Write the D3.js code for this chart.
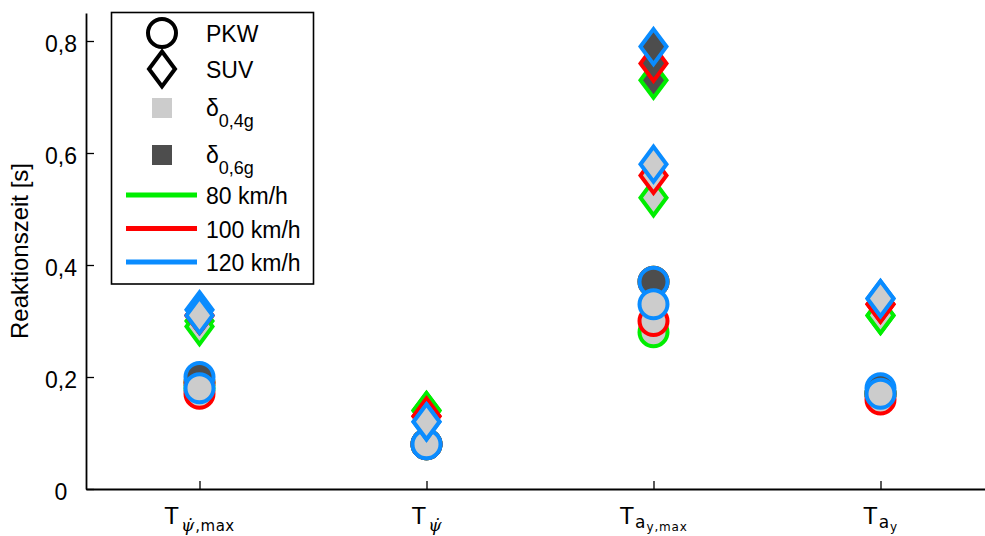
<!DOCTYPE html>
<html>
<head>
<meta charset="utf-8">
<script src="https://cdn.jsdelivr.net/npm/d3@7"></script>
<style>
  body { margin: 0; background: #fff; }
  svg { display: block; }
  text { font-family: "Liberation Sans", Arial, Helvetica, sans-serif; fill: #000; }
</style>
</head>
<body>
<svg id="chart" width="985" height="536"></svg>
<script>
// Reaction times of the driver-model metrics, per vehicle, steering amplitude and speed
const categories = ["T_psidot_max", "T_psidot", "T_ay_max", "T_ay"];
const tickLabels = [
  { base: "T", sub: "ψ̇", math: true, tail: ",max", subsub: "" },
  { base: "T", sub: "ψ̇", math: true, tail: "", subsub: "" },
  { base: "T", sub: "a", math: false, tail: "", subsub: "y,max" },
  { base: "T", sub: "a", math: false, tail: "", subsub: "y" }
];
const speeds = ["80 km/h", "100 km/h", "120 km/h"];
const speedColors = ["#00ee00", "#ff0000", "#0a8cff"];
const vehicles = ["PKW", "SUV"];
const deltaLabels = [["δ", "0,4g"], ["δ", "0,6g"]];
const deltaFills = ["#cccccc", "#4d4d4d"];
const yTicks = [0, 0.2, 0.4, 0.6, 0.8];
const yLabel = "Reaktionszeit [s]";

// PKW (circles), δ = 0,4g
const pkw04_80  = [0.18, 0.08, 0.28, 0.17];
const pkw04_100 = [0.17, 0.08, 0.30, 0.16];
const pkw04_120 = [0.18, 0.08, 0.33, 0.17];
// PKW, δ = 0,6g
const pkw06_80  = [0.19, 0.08, 0.37, 0.17];
const pkw06_100 = [0.19, 0.08, 0.37, 0.17];
const pkw06_120 = [0.20, 0.08, 0.37, 0.18];
// SUV (diamonds), δ = 0,4g
const suv04_80  = [0.29, 0.14, 0.52, 0.31];
const suv04_100 = [0.31, 0.13, 0.56, 0.33];
const suv04_120 = [0.31, 0.12, 0.58, 0.34];
// SUV, δ = 0,6g
const suv06_80  = [0.30, 0.14, 0.73, 0.31];
const suv06_100 = [0.31, 0.13, 0.76, 0.33];
const suv06_120 = [0.32, 0.12, 0.79, 0.34];

// series table: [vehicle][speed][delta] -> values per category
const seriesTable = [
  [[pkw04_80, pkw06_80], [pkw04_100, pkw06_100], [pkw04_120, pkw06_120]],
  [[suv04_80, suv06_80], [suv04_100, suv06_100], [suv04_120, suv06_120]]
];

const svg = d3.select("#chart");
const x = d3.scaleLinear().domain([0.5, 4.5]).range([86, 994]);
const y = d3.scaleLinear().domain([0, 0.85]).range([489, 13]);
const loc = d3.formatLocale({ decimal: ",", thousands: ".", grouping: [3], currency: ["", "€"] });
const fmt = v => v === 0 ? "0" : loc.format(".1f")(v);

// axes
const yAxis = svg.append("g").attr("transform", `translate(${x.range()[0]},0)`)
  .call(d3.axisLeft(y).tickValues(yTicks).tickSizeInner(-8).tickSizeOuter(0).tickFormat(fmt));
yAxis.select(".domain").attr("stroke-width", 1.8);
yAxis.selectAll(".tick line").attr("stroke-width", 1.3);
yAxis.selectAll(".tick text")
  .attr("x", -25).attr("dy", null).attr("y", 10)
  .attr("text-anchor", "middle")
  .style("font-size", "23px").style("font-family", null);

const xAxis = svg.append("g").attr("transform", `translate(0,${y(0)})`)
  .call(d3.axisBottom(x).tickValues(d3.range(1, categories.length + 1)).tickSizeInner(-8).tickSizeOuter(0).tickFormat(""));
xAxis.select(".domain").attr("stroke-width", 1.8);
xAxis.selectAll(".tick line").attr("stroke-width", 1.3);

// category labels with sub / sub-subscripts
tickLabels.forEach((lab, i) => {
  const t = svg.append("text")
    .attr("x", x(i + 1)).attr("y", 524)
    .attr("text-anchor", "middle");
  t.append("tspan").text(lab.base).style("font-size", "24px");
  if (lab.math) {
    t.append("tspan").text(lab.sub).attr("dy", 7).attr("dx", 2)
      .style("font-family", "'DejaVu Serif', serif").style("font-style", "italic").style("font-size", "17px");
    if (lab.tail) {
      t.append("tspan").text(lab.tail).attr("dx", 1)
        .style("font-family", "'DejaVu Sans', sans-serif").style("font-size", "15px").style("letter-spacing", "0.5px");
    }
  } else {
    t.append("tspan").text(lab.sub).attr("dy", 4).attr("dx", 1)
      .style("font-family", "'DejaVu Sans', sans-serif").style("font-size", "17px");
    t.append("tspan").text(lab.subsub).attr("dy", 3).attr("dx", 1)
      .style("font-family", "'DejaVu Sans', sans-serif").style("font-size", "12px").style("letter-spacing", "0.8px");
  }
});

// y axis title
svg.append("text")
  .attr("transform", `translate(28,${(y.range()[0] + y.range()[1]) / 2}) rotate(-90)`)
  .attr("text-anchor", "middle").style("font-size", "24px")
  .text(yLabel);

// marker shapes
const R = 14, HW = 13, HH = 17.5, SW = 4;
const diamondPath = (hw, hh) => `M0,${-hh}L${hw},0L0,${hh}L${-hw},0Z`;

function drawMarker(g, vehicle, cx, cy, fill, stroke) {
  if (vehicle === 0) {
    g.append("circle").attr("cx", cx).attr("cy", cy).attr("r", R)
      .attr("fill", fill).attr("stroke", stroke).attr("stroke-width", SW);
  } else {
    g.append("path").attr("d", diamondPath(HW, HH))
      .attr("transform", `translate(${cx},${cy})`)
      .attr("fill", fill).attr("stroke", stroke).attr("stroke-width", SW)
      .attr("stroke-linejoin", "miter");
  }
}

// data markers: circles first, then diamonds; per speed the 0,6g point under the 0,4g point
const marks = svg.append("g");
seriesTable.forEach((bySpeed, vi) => {
  bySpeed.forEach((byDelta, si) => {
    [1, 0].forEach(di => {
      byDelta[di].forEach((v, ci) => {
        drawMarker(marks, vi, x(ci + 1), y(v), deltaFills[di], speedColors[si]);
      });
    });
  });
});

// legend
const leg = svg.append("g");
leg.append("rect").attr("x", 111.5).attr("y", 12.5).attr("width", 202).attr("height", 271.5)
  .attr("fill", "#fff").attr("stroke", "#000").attr("stroke-width", 1.6);
const lx = 162, tx = 206;
const rowY = [33, 69, 108, 155, 195, 228.5, 262];
vehicles.forEach((name, i) => {
  drawMarker(leg, i, lx, rowY[i], "none", "#000");
  leg.append("text").attr("x", tx).attr("y", rowY[i] + 9).style("font-size", "23px").text(name);
});
deltaLabels.forEach((d, i) => {
  const ry = rowY[2 + i];
  leg.append("rect").attr("x", lx - 10).attr("y", ry - 10).attr("width", 20).attr("height", 20)
    .attr("fill", deltaFills[i]);
  const t = leg.append("text").attr("x", tx).attr("y", ry + 8).style("font-size", "23px");
  t.append("tspan").text(d[0]);
  t.append("tspan").text(d[1]).attr("dy", 11).style("font-size", "18px");
});
speeds.forEach((s, i) => {
  const ry = rowY[4 + i];
  leg.append("line").attr("x1", 126).attr("x2", 197).attr("y1", ry).attr("y2", ry)
    .attr("stroke", speedColors[i]).attr("stroke-width", 5);
  leg.append("text").attr("x", tx).attr("y", ry + 9).style("font-size", "23px").text(s);
});
</script>
</body>
</html>
